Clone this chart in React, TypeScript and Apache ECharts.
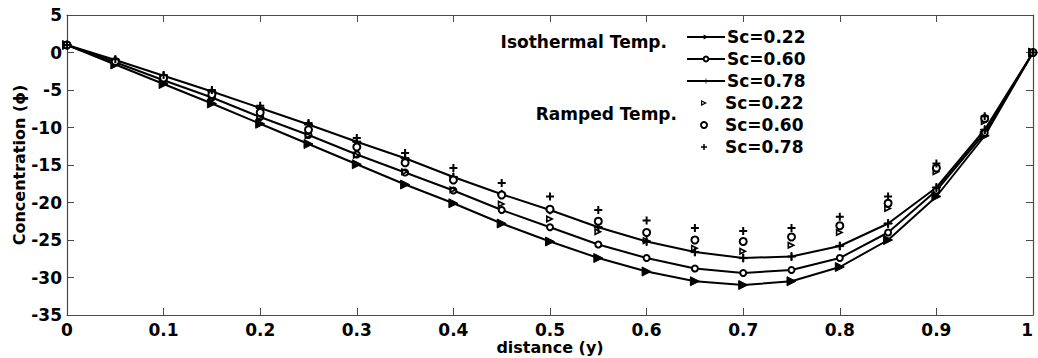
import React, { useEffect, useRef } from "react";
import * as echarts from "echarts";

// distance (y) sample positions
const distance = [0, 0.05, 0.1, 0.15, 0.2, 0.25, 0.3, 0.35, 0.4, 0.45, 0.5, 0.55, 0.6, 0.65, 0.7, 0.75, 0.8, 0.85, 0.9, 0.95, 1];

// Isothermal temperature profiles (lines with markers)
const isoSc022 = [1, -1.6, -4.2, -6.8, -9.5, -12.2, -14.9, -17.6, -20.1, -22.8, -25.2, -27.4, -29.2, -30.5, -31.0, -30.5, -28.6, -25.0, -19.2, -11.1, 0];
const isoSc060 = [1, -1.3, -3.7, -6.0, -8.6, -11.0, -13.6, -16.0, -18.4, -21.0, -23.3, -25.6, -27.4, -28.8, -29.4, -29.0, -27.4, -24.0, -18.4, -10.7, 0];
const isoSc078 = [1, -1.0, -3.1, -5.2, -7.4, -9.6, -11.9, -14.1, -16.6, -18.9, -21.0, -23.3, -25.2, -26.6, -27.4, -27.2, -25.8, -22.8, -18.0, -10.3, 0];

// Ramped temperature profiles (markers only)
const rampSc022 = [1, -1.4, -3.8, -6.2, -8.6, -11.1, -13.7, -15.9, -18.3, -20.2, -22.2, -23.9, -25.1, -26.1, -26.5, -25.7, -24.0, -20.8, -15.9, -9.2, 0];
const rampSc060 = [1, -1.2, -3.4, -5.6, -8.0, -10.3, -12.6, -14.7, -17.0, -19.0, -20.9, -22.5, -24.0, -25.0, -25.2, -24.6, -23.1, -20.1, -15.4, -8.8, 0];
const rampSc078 = [1, -0.9, -3.0, -5.0, -7.1, -9.4, -11.4, -13.4, -15.4, -17.4, -19.2, -21.0, -22.4, -23.4, -23.8, -23.4, -21.9, -19.2, -14.8, -8.5, 0];

const isoNames = ["Sc=0.22", "Sc=0.60", "Sc=0.78"];
const rampNames = ["Sc=0.22 ", "Sc=0.60 ", "Sc=0.78 "];

const xTicks = { min: 0, max: 1, interval: 0.1 };
const yTicks = { min: -35, max: 5, interval: 5 };

const FONT = '"DejaVu Sans", Verdana, sans-serif';
const AXIS_COLOR = "#4a4a4a";

// marker shapes
const TRI_FILLED = "path://M0,0L10,5L0,10Z";
const TRI_HOLLOW = "path://M0,0L10,5L0,10ZM2,3.3L2,6.7L5.6,5Z";
const PLUS_THIN = "path://M3.4,0H4.6V3.4H8V4.6H4.6V8H3.4V4.6H0V3.4H3.4Z";
const PLUS_BOLD = "path://M3,0H5V3H8V5H5V8H3V5H0V3H3Z";

const pairs = (ys: number[]) => distance.map((x, i) => [x, ys[i]]);

function buildOption() {
  const lineBase = {
    type: "line",
    smooth: false,
    showSymbol: true,
    lineStyle: { color: "#000", width: 2 },
    itemStyle: { color: "#000", borderColor: "#000", opacity: 1 },
    emphasis: { disabled: true },
    z: 2,
  };
  const scatterBase = {
    type: "scatter",
    emphasis: { disabled: true },
    z: 4,
  };

  const tickStyle = { color: "#000", fontFamily: FONT, fontWeight: "bold", fontSize: 17 };
  const nameStyle = { color: "#000", fontFamily: FONT, fontWeight: "bold", fontSize: 16 };
  const legendText = {
    color: "#000",
    fontFamily: FONT,
    fontWeight: "bold",
    fontSize: 17,
    lineHeight: 18,
    padding: [0, 0, 0, -3],
  };

  const legendCommon = {
    orient: "vertical",
    itemWidth: 38,
    itemHeight: 6,
    itemGap: 4,
    padding: 0,
    selectedMode: false,
    textStyle: legendText,
  };

  return {
    animation: false,
    backgroundColor: "#fff",
    grid: { left: 67, right: 5, top: 15, bottom: 43, containLabel: false, outerBoundsMode: "none" },
    xAxis: [
      {
        type: "value",
        ...xTicks,
        position: "bottom",
        axisLine: { show: true, onZero: false, lineStyle: { color: AXIS_COLOR, width: 1.2 } },
        axisTick: { show: true, inside: true, length: 7, lineStyle: { color: AXIS_COLOR } },
        axisLabel: { ...tickStyle, margin: 6, alignMaxLabel: "right" },
        splitLine: { show: false },
        name: "distance (y)",
        nameLocation: "middle",
        nameGap: 24,
        nameMoveOverlap: false,
        nameTextStyle: nameStyle,
      },
      {
        type: "value",
        ...xTicks,
        position: "top",
        axisLine: { show: true, onZero: false, lineStyle: { color: AXIS_COLOR, width: 1.2 } },
        axisTick: { show: true, inside: true, length: 7, lineStyle: { color: AXIS_COLOR } },
        axisLabel: { show: false },
        splitLine: { show: false },
      },
    ],
    yAxis: [
      {
        type: "value",
        ...yTicks,
        position: "left",
        axisLine: { show: true, onZero: false, lineStyle: { color: AXIS_COLOR, width: 1.2 } },
        axisTick: { show: true, inside: true, length: 7, lineStyle: { color: AXIS_COLOR } },
        axisLabel: { ...tickStyle, margin: 5 },
        splitLine: { show: false },
        name: "Concentration (\u03D5)",
        nameLocation: "middle",
        nameGap: 40,
        nameMoveOverlap: false,
        nameTextStyle: nameStyle,
      },
      {
        type: "value",
        ...yTicks,
        position: "right",
        axisLine: { show: true, onZero: false, lineStyle: { color: AXIS_COLOR, width: 1.2 } },
        axisTick: { show: true, inside: true, length: 7, lineStyle: { color: AXIS_COLOR } },
        axisLabel: { show: false },
        splitLine: { show: false },
      },
    ],
    legend: [
      { ...legendCommon, data: isoNames, left: 686, top: 28 },
      { ...legendCommon, data: rampNames, left: 700, top: 94, formatter: (n: string) => n.trim() },
    ],
    graphic: [
      {
        type: "text",
        x: 667,
        y: 42,
        style: {
          text: "Isothermal Temp.",
          fill: "#000",
          font: `bold 17px ${FONT}`,
          align: "right",
          verticalAlign: "middle",
        },
      },
      {
        type: "text",
        x: 677,
        y: 114,
        style: {
          text: "Ramped Temp.",
          fill: "#000",
          font: `bold 17px ${FONT}`,
          align: "right",
          verticalAlign: "middle",
        },
      },
    ],
    series: [
      { ...lineBase, name: isoNames[0], data: pairs(isoSc022), symbol: TRI_FILLED, symbolSize: 9 },
      {
        ...lineBase,
        name: isoNames[1],
        data: pairs(isoSc060),
        symbol: "emptyCircle",
        symbolSize: 6,
        itemStyle: { color: "#000", borderColor: "#000", borderWidth: 1.3, opacity: 1 },
      },
      { ...lineBase, name: isoNames[2], data: pairs(isoSc078), symbol: PLUS_THIN, symbolSize: 8 },
      {
        ...scatterBase,
        name: rampNames[0],
        data: pairs(rampSc022),
        symbol: TRI_HOLLOW,
        symbolSize: 8,
        itemStyle: { color: "#000", opacity: 1 },
      },
      {
        ...scatterBase,
        name: rampNames[1],
        data: pairs(rampSc060),
        symbol: "emptyCircle",
        symbolSize: 7,
        itemStyle: { color: "#000", borderColor: "#000", borderWidth: 1.5, opacity: 1 },
      },
      {
        ...scatterBase,
        name: rampNames[2],
        data: pairs(rampSc078),
        symbol: PLUS_BOLD,
        symbolSize: 8,
        itemStyle: { color: "#000", opacity: 1 },
      },
    ],
  };
}

export default function App() {
  const ref = useRef<HTMLDivElement>(null);
  useEffect(() => {
    if (!ref.current) return;
    const chart = echarts.init(ref.current, null, { renderer: "svg" });
    chart.setOption(buildOption() as any);
    return () => chart.dispose();
  }, []);
  return (
    <div
      ref={ref}
      style={{ position: "absolute", left: 0, top: 0, width: 1038, height: 358, background: "#fff" }}
    />
  );
}
